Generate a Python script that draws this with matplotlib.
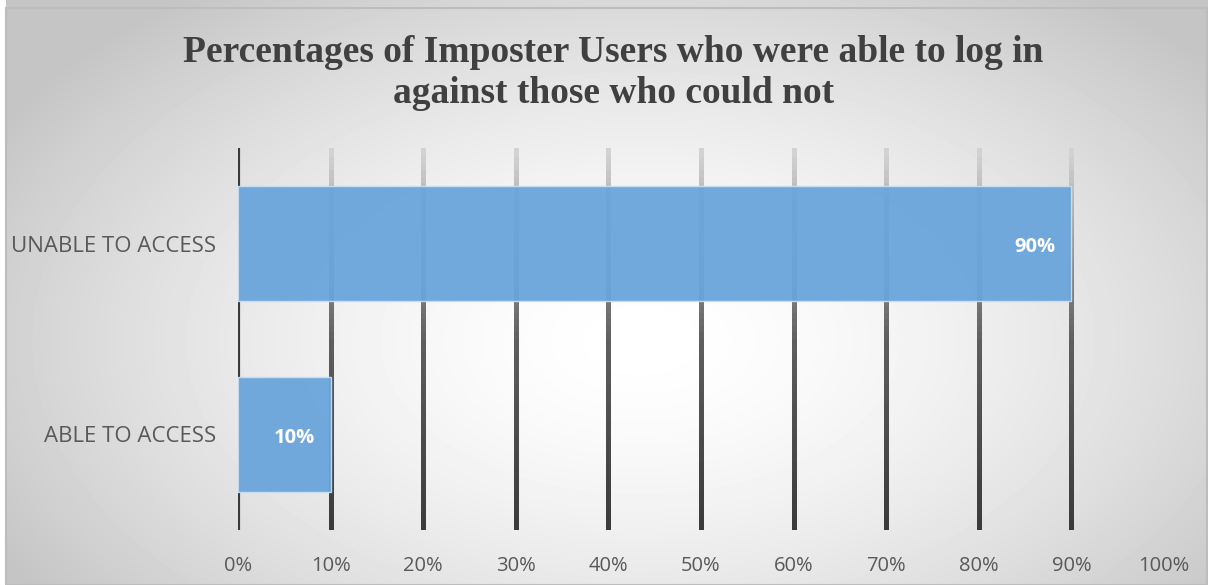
import numpy as np
import matplotlib
matplotlib.use('Agg')
from matplotlib import pyplot as plt
from matplotlib.ticker import PercentFormatter
from matplotlib.patches import Rectangle
from matplotlib.collections import LineCollection
from matplotlib.colors import LinearSegmentedColormap

categories = ['ABLE TO ACCESS', 'UNABLE TO ACCESS']
shares = [0.10, 0.90]
title = 'Percentages of Imposter Users who were able to log in\nagainst those who could not'

fig = plt.figure(figsize=(12.08, 5.85), dpi=100)

# radial grey-to-white backdrop over the whole figure
bg = fig.add_axes([0, 0, 1, 1], zorder=-10)
yy, xx = np.mgrid[0:585, 0:1208]
r = np.sqrt(((xx - 640) / 760.0) ** 2 + ((yy - 340) / 450.0) ** 2)
shade = np.clip(1.0 - 0.24 * r ** 1.6, 0.77, 1.0)
shade[:, :6] = 1.0
bg.imshow(shade, cmap='gray', vmin=0, vmax=1, aspect='auto',
          extent=[0, 1, 0, 1], origin='upper')
bg.add_patch(Rectangle((6 / 1208, 0), 1 - 7 / 1208, 1 - 8 / 585, fill=False,
                       edgecolor='#bdbdbd', lw=1.5, transform=bg.transAxes))
bg.set_axis_off()

ax = fig.add_axes([238 / 1208, 55 / 585, (1164 - 238) / 1208, 382 / 585])
ax.set_facecolor('none')

bars = ax.barh(categories, shares, height=0.6, color='#6aa5dc', alpha=0.95,
               edgecolor='#c8def2', linewidth=1.0, zorder=3)
for b, v in zip(bars, shares):
    ax.text(b.get_width() - 0.017, b.get_y() + b.get_height() / 2 - 0.02,
            '{:.0f}%'.format(v * 100), ha='right', va='center',
            color='white', fontsize=14.5, fontweight='bold',
            family='Open Sans', zorder=4)

ax.set_xlim(0, 1.0)
ax.set_ylim(-0.5, 1.5)
ax.set_xticks(np.arange(0, 1.01, 0.1))
ax.xaxis.set_major_formatter(PercentFormatter(1.0, decimals=0))

# gridlines fade from light at the top to dark at the bottom
grid_cmap = LinearSegmentedColormap.from_list('gridfade', ['#3a3a3a', '#5e5e5e', '#d2d2d2'])
ys = np.linspace(-0.5, 1.5, 60)
for t in ax.get_xticks()[1:-1]:
    pts = np.column_stack([np.full_like(ys, t), ys])
    segs = np.stack([pts[:-1], pts[1:]], axis=1)
    lc = LineCollection(segs, cmap=grid_cmap, linewidths=2.4, zorder=1,
                        antialiaseds=False)
    lc.set_capstyle('projecting')
    lc.set_array((ys[:-1] + 0.5) / 2.0)
    ax.add_collection(lc)

for s in ax.spines.values():
    s.set_visible(False)
ax.axvline(0, color='#3a3a3a', lw=3.0, zorder=2)
ax.tick_params(length=0, labelcolor='#595959')
ax.tick_params(axis='x', labelsize=14.5, pad=19)
ax.tick_params(axis='y', labelsize=16, pad=16)
for lab in ax.get_xticklabels() + ax.get_yticklabels():
    lab.set_family('Open Sans')

fig.text(0.508, 0.94, title, ha='center', va='top', fontsize=27,
         fontweight='bold', family='Liberation Serif', color='#404040',
         linespacing=1.22)

fig.savefig('out.png', dpi=100)
